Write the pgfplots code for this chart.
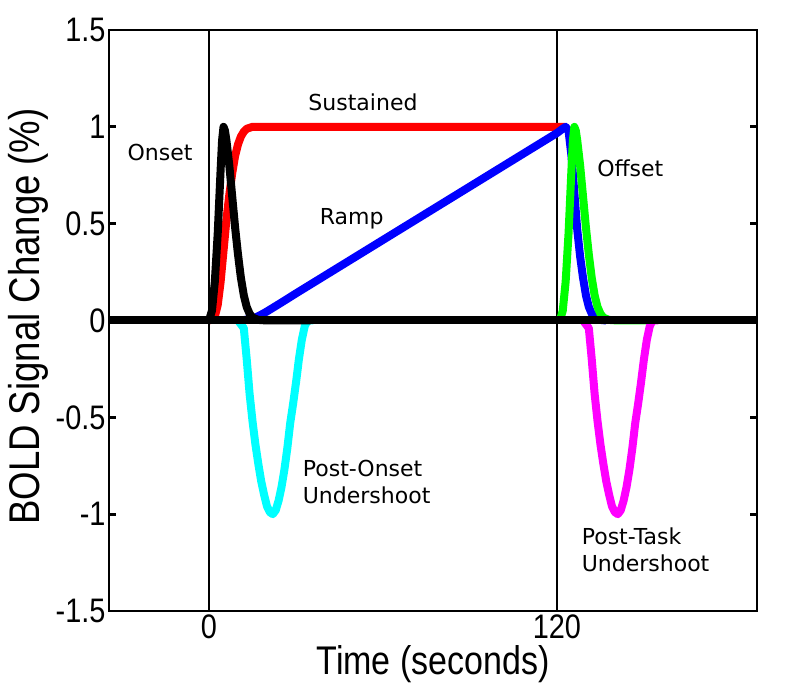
\documentclass[border=0pt]{standalone}
\usepackage{fontspec}
\setmainfont{DejaVu Sans}
\newfontfamily\matfont{Liberation Sans}[FakeStretch=0.85]
\usepackage{pgfplots}
\pgfplotsset{compat=1.18}

\definecolor{mred}{RGB}{255,0,0}
\definecolor{mblue}{RGB}{0,0,255}
\definecolor{mgreen}{RGB}{0,255,0}
\definecolor{mcyan}{RGB}{0,255,255}
\definecolor{mmagenta}{RGB}{255,0,255}
\newcommand{\annfont}{\fontsize{22}{26.7}\selectfont}

\begin{document}
\begin{tikzpicture}
\begin{axis}[
  scale only axis, width=648pt, height=581pt,
  xmin=-34.5, xmax=189, ymin=-1.5, ymax=1.5,
  xtick={0,120}, xticklabels={0,120},
  ytick={-1.5,-1,-0.5,0,0.5,1,1.5},
  yticklabels={-1.5,-1,-0.5,0,0.5,1,1.5},
  tick align=inside, major tick length=7pt,
  axis line style={line width=2.8pt},
  every tick/.style={black, line width=2.8pt},
  tick label style={font=\matfont\fontsize{34}{34}\selectfont},
  xlabel={Time (seconds)}, ylabel={BOLD Signal Change (\%)},
  xlabel style={font=\matfont\fontsize{40}{40}\selectfont},
  ylabel style={font=\matfont\fontsize{43}{43}\selectfont, xshift=4pt},
  every axis plot/.append style={line width=8pt, line join=round},
]
% stimulus on/off
\addplot[black, line width=1.4pt] coordinates {(0,-1.5) (0,1.5)};
\addplot[black, line width=1.4pt] coordinates {(120,-1.5) (120,1.5)};

% sustained
\addplot[mred] coordinates {
(0,0) (1,0.005) (2,0.02) (3,0.08) (4,0.2) (5,0.36) (6,0.52) (7,0.65) (8,0.76)
(9,0.85) (10,0.91) (11,0.95) (12,0.975) (13,0.99) (15,1.0) (123,1.0)};

% ramp
\addplot[mblue] coordinates {
(10,0) (12,0.002) (14,0.008) (16,0.015) (18,0.03) (20,0.047) (25,0.093)
(30,0.14) (40,0.232) (60,0.416) (80,0.60) (100,0.784) (120,0.968) (122,0.99)
(123,1.0) (124,0.98) (125,0.85) (126,0.66) (127,0.47) (128,0.33) (129,0.22)
(130,0.13) (131,0.07) (132,0.035) (133,0.015) (135,0.003) (137,0)};

% offset
\addplot[mgreen] coordinates {
(121,0) (122,0.05) (123,0.2) (124,0.45) (125,0.78) (125.5,0.93) (126,1.0)
(126.5,0.98) (127,0.93) (128,0.8) (129,0.64) (130,0.48) (131,0.34) (132,0.22)
(133,0.13) (134,0.07) (135,0.035) (136,0.015) (138,0.003) (141,0) (153,0)};

% post-onset undershoot
\addplot[mcyan] coordinates {
(10,0) (12,-0.04) (13,-0.2) (14,-0.38) (15,-0.52) (16,-0.64) (17,-0.74)
(18,-0.83) (19,-0.9) (20,-0.96) (21,-0.99) (22,-1.0) (23,-0.98) (24,-0.93)
(25,-0.86) (26,-0.77) (27,-0.66) (28,-0.53) (29,-0.43) (30,-0.32) (31,-0.2)
(32,-0.1) (33,-0.03) (34,0) (36,0)};

% post-task undershoot
\addplot[mmagenta] coordinates {
(129,0) (131,-0.04) (132,-0.2) (133,-0.38) (134,-0.52) (135,-0.64) (136,-0.74)
(137,-0.83) (138,-0.9) (139,-0.96) (140,-0.99) (141,-1.0) (142,-0.98) (143,-0.93)
(144,-0.86) (145,-0.77) (146,-0.66) (147,-0.53) (148,-0.43) (149,-0.32) (150,-0.2)
(151,-0.1) (152,-0.03) (153,0) (155,0)};

% onset
\addplot[black] coordinates {
(0,0) (1,0.05) (2,0.2) (3,0.45) (4,0.78) (4.5,0.93) (5,1.0) (5.5,0.98) (6,0.93)
(7,0.8) (8,0.64) (9,0.48) (10,0.34) (11,0.22) (12,0.13) (13,0.07) (14,0.035)
(15,0.015) (17,0.003) (20,0) (35,0)};

% baseline
\addplot[black] coordinates {(-34.5,0) (189,0)};

\node[font=\annfont] at (axis cs:-16.9,0.868) {Onset};
\node[font=\annfont] at (axis cs:53.1,1.128) {Sustained};
\node[font=\annfont] at (axis cs:49.2,0.526) {Ramp};
\node[font=\annfont] at (axis cs:145.3,0.784) {Offset};
\node[font=\annfont, anchor=west, align=left, inner sep=0pt] at (axis cs:32.3,-0.835) {Post-Onset\\Undershoot};
\node[font=\annfont, anchor=west, align=left, inner sep=0pt] at (axis cs:128.5,-1.185) {Post-Task\\Undershoot};
\end{axis}
\pgfresetboundingbox
\path ([shift={(-109pt,-80pt)}]current axis.south west) rectangle ([shift={(43pt,30pt)}]current axis.north east);
\end{tikzpicture}
\end{document}
